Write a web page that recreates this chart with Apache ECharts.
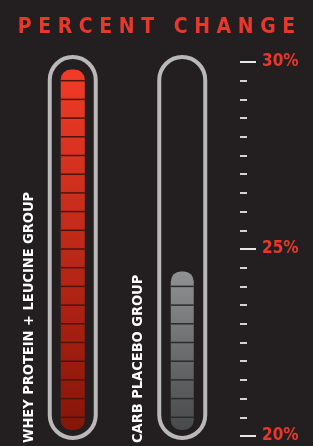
<!DOCTYPE html>
<html>
<head>
<meta charset="utf-8">
<script src="https://cdn.jsdelivr.net/npm/echarts@6/dist/echarts.min.js"></script>
<style>
	html, body { margin: 0; padding: 0; background: #231f20; }
	#main { width: 313px; height: 446px; }
</style>
</head>
<body>
<div id="main"></div>
<script>
'use strict';
// 数据
var groups = ['WHEY PROTEIN + LEUCINE GROUP', 'CARB PLACEBO GROUP'];
var percentChange = [29.8, 24.4];
var axisMin = 20;
var axisMax = 30;
var labelStep = 5;   // 20% 25% 30%
var segmentStep = 0.5;

var barColors = [
	['#f23b27', '#861508', '#4a150d'],
	['#909193', '#48494b', '#2a2a2b']
];
var fontName = '"DejaVu Sans Condensed", "Liberation Sans Narrow", sans-serif';

function renderItem(params, api) {
	var idx = api.value(0);
	var val = api.value(1);
	var top = api.coord([idx, val]);
	var base = api.coord([idx, axisMin]);
	var yMax = api.coord([idx, axisMax])[1];
	var cx = top[0];
	var colors = barColors[idx];
	var barW = idx === 0 ? 24 : 23;
	var children = [];

	// 外框
	children.push({
		type: 'rect',
		shape: { x: cx - 23, y: yMax - 5, width: 46, height: base[1] + 2 - (yMax - 5), r: 23 },
		style: { fill: 'none', stroke: '#b9b9b9', lineWidth: 4 }
	});

	// 柱
	var barBottom = base[1] - 6;
	children.push({
		type: 'rect',
		shape: { x: cx - barW / 2, y: top[1], width: barW, height: barBottom - top[1], r: 10 },
		style: {
			fill: new echarts.graphic.LinearGradient(0, 0, 0, 1, [
				{ offset: 0, color: colors[0] },
				{ offset: 1, color: colors[1] }
			])
		}
	});

	// 分段线
	for (var v = axisMin + segmentStep; v < val - 0.1; v += segmentStep) {
		var y = api.coord([idx, v])[1];
		children.push({
			type: 'line',
			shape: { x1: cx - barW / 2, y1: y, x2: cx + barW / 2, y2: y },
			style: { stroke: colors[2], lineWidth: 1.5 }
		});
	}

	// 竖排标签
	children.push({
		type: 'text',
		x: cx - 44,
		y: base[1] + 7,
		rotation: Math.PI / 2,
		style: {
			text: groups[idx],
			fill: '#ffffff',
			font: 'bold 14.5px ' + fontName,
			align: 'left',
			verticalAlign: 'middle'
		}
	});

	return { type: 'group', children: children };
}

var chart = echarts.init(document.getElementById('main'));
var option = {
	backgroundColor: '#231f20',
	animation: false,
	title: {
		text: 'P E R C E N T   C H A N G E',
		left: 'center',
		top: 12,
		textStyle: {
			color: '#e8382b',
			fontSize: 21,
			fontWeight: 'bold',
			fontFamily: fontName
		}
	},
	grid: {
		left: 18,
		right: 76,
		top: 62,
		bottom: 10
	},
	xAxis: {
		type: 'category',
		data: groups,
		show: false
	},
	yAxis: {
		type: 'value',
		position: 'right',
		offset: 3,
		min: axisMin,
		max: axisMax,
		interval: labelStep,
		axisLine: { show: false },
		splitLine: { show: false },
		axisTick: {
			show: true,
			length: 16,
			lineStyle: { color: '#e6e6e6', width: 2 }
		},
		minorTick: {
			show: true,
			splitNumber: labelStep / segmentStep,
			length: 7,
			lineStyle: { color: '#d4d4d4', width: 2 }
		},
		axisLabel: {
			margin: 22,
			formatter: '{value}%',
			color: '#e8382b',
			fontSize: 17,
			fontWeight: 'bold',
			fontFamily: fontName
		}
	},
	series: [{
		type: 'custom',
		renderItem: renderItem,
		clip: false,
		data: percentChange.map(function(v, i) { return [i, v]; })
	}]
};
chart.setOption(option);
</script>
</body>
</html>
